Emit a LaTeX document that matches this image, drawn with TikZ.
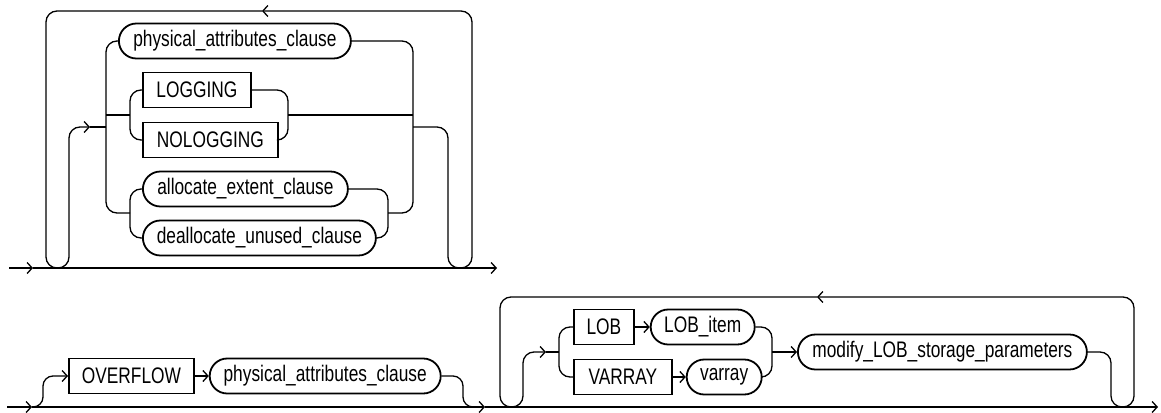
\documentclass[tikz,border=0pt]{standalone}
\usepackage{fontspec}
\usepackage{tikz}
\usetikzlibrary{arrows.meta, positioning, shapes.misc}
\newfontfamily\railfont[FakeStretch=0.77]{Liberation Sans}

\begin{document}
\begin{tikzpicture}[
  x=1pt, y=-1pt,
  kwbox/.style={rectangle, draw, line width=1.8pt, minimum height=35pt,
                inner xsep=0pt, text centered, anchor=west,
                font=\railfont\fontsize{22.5}{25}\selectfont},
  ntbox/.style={rounded rectangle, draw, line width=1.8pt, minimum height=35pt,
                inner xsep=0pt, text centered, anchor=west,
                font=\railfont\fontsize{22.5}{25}\selectfont},
  rail/.style={line width=1.3pt, rounded corners=11pt},
  arr/.style={-{Straight Barb[length=5pt, width=11pt]}},
]
  \useasboundingbox (0,0) rectangle (1161,412);

  % upper diagram
  \node[ntbox, minimum width=232pt] (pac1) at (118,41) {physical\_attributes\_clause};
  \node[kwbox, minimum width=108pt] (log) at (142,90) {LOGGING};
  \node[kwbox, minimum width=135pt] (nolog) at (142,140) {NOLOGGING};
  \node[ntbox, minimum width=205pt] (alloc) at (142,189) {allocate\_extent\_clause};
  \node[ntbox, minimum width=233pt] (dealloc) at (142,238) {deallocate\_unused\_clause};

  \coordinate (tstart) at (9,268);
  \coordinate (tmainA) at (33,268);
  \coordinate (tend) at (497,268);
  \coordinate (tentA) at (90,127);
  \coordinate (tcl) at (106,127);
  \coordinate (tcr) at (413,127);
  \coordinate (tloopA) at (262,11);

  \draw[rail, arr] (tstart) -- (tmainA);
  \draw[rail, arr] (tmainA) -- (tend);
  \draw[rail, arr] (tcr) -- (448,127) -- (448,268) -- (472,268) -- (472,11) -- (tloopA);
  \draw[rail, arr] (tloopA) -- (46,11) -- (46,268) -- (69,268) -- (69,127) -- (tentA);
  \draw[rail] (tentA) -- (tcl);

  \draw[rail] (pac1.west) -| (106,213) -- (130,213);
  \draw[rail] (106,115) -- (130,115);
  \draw[rail] (log.west) -| (130,115) |- (nolog.west);
  \draw[rail] (alloc.west) -| (130,213) |- (dealloc.west);
  \draw[rail] (pac1.east) -| (413,213) -- (388,213);
  \draw[rail] (288,115) -- (413,115);
  \draw[rail] (log.east) -| (288,115) |- (nolog.east);
  \draw[rail] (alloc.east) -| (388,213) |- (dealloc.east);

  % lower diagram
  \node[kwbox, minimum width=125pt] (ovf) at (68,376) {OVERFLOW};
  \node[ntbox, minimum width=231pt, right=14pt of ovf] (pac2) {physical\_attributes\_clause};
  \node[kwbox, minimum width=60pt] (lobkw) at (573,327) {LOB};
  \node[ntbox, minimum width=104pt, right=15pt of lobkw] (lobitem) {LOB\_item};
  \node[kwbox, minimum width=98pt] (varraykw) at (573,377) {VARRAY};
  \node[ntbox, minimum width=75pt, right=13pt of varraykw] (varray) {varray};
  \node[ntbox, minimum width=289pt] (modlob) at (797,352) {modify\_LOB\_storage\_parameters};

  \coordinate (bstart) at (7,407);
  \coordinate (bmainA) at (32,407);
  \coordinate (bmidA) at (485,407);
  \coordinate (bend) at (1158,407);
  \coordinate (bentA) at (546,352);
  \coordinate (bloopA) at (817,297);
  \coordinate (bjoin) at (772,352);

  \draw[rail, arr] (bstart) -- (bmainA);
  \draw[rail, arr] (bmainA) -- (bmidA);
  \draw[rail, arr] (bmidA) -- (bend);

  \draw[rail, arr, rounded corners=10pt] (bmainA) -- (43,407) -- (43,376) -- (ovf.west);
  \draw[rail, arr] (ovf.east) -- (pac2.west);
  \draw[rail, rounded corners=10pt] (pac2.east) -- (463,376) -- (463,407) -- (475,407);

  \draw[rail, arr] (modlob.east) -- (1111,352) -- (1111,407) -- (1134,407) -- (1134,297) -- (bloopA);
  \draw[rail, arr] (bloopA) -- (500,297) -- (500,407) -- (523,407) -- (523,352) -- (bentA);
  \draw[rail] (bentA) -- (559,352);
  \draw[rail] (lobkw.west) -| (559,352) |- (varraykw.west);
  \draw[rail, arr] (lobkw.east) -- (lobitem.west);
  \draw[rail, arr] (varraykw.east) -- (varray.west);
  \draw[rail] (lobitem.east) -| (bjoin) |- (varray.east);
  \draw[rail, arr] (bjoin) -- (modlob.west);
\end{tikzpicture}
\end{document}
